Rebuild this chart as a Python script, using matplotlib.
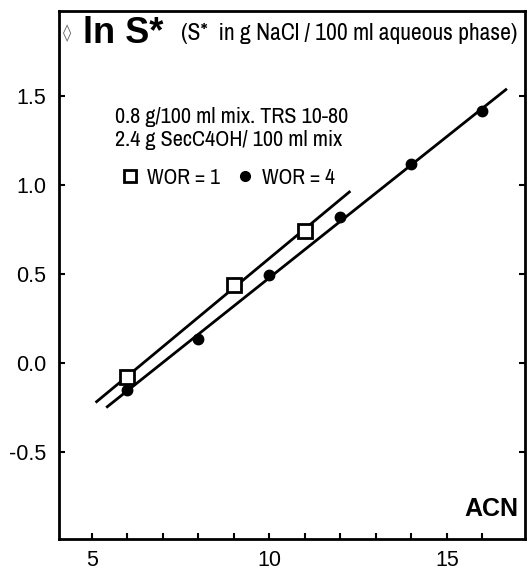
import numpy as np
import matplotlib
matplotlib.use("Agg")
import matplotlib.pyplot as plt
from matplotlib.lines import Line2D

# Data
acn_wor1 = [6, 9, 11]
lns_wor1 = [-0.08, 0.44, 0.745]
acn_wor4 = [6, 8, 10, 12, 14, 16]
lns_wor4 = [-0.153, 0.136, 0.494, 0.82, 1.12, 1.415]
fit_range_wor1 = [5.13, 12.25]
fit_range_wor4 = [5.43, 16.66]
x_ticks = [5, 10, 15]
y_ticks = [-0.5, 0.0, 0.5, 1.0, 1.5]
y_ticklabels = ["-0.5", "0.0", "0.5", "1.0", "1.5"]

plt.rcParams['font.family'] = ['Liberation Sans', 'DejaVu Sans']
narrow = ['Archivo Narrow', 'Asap Condensed', 'Liberation Sans', 'DejaVu Sans']

fig = plt.figure(figsize=(5.3, 5.76), dpi=100)
ax = fig.add_axes([59/530, 1-539/576, (525-59)/530, (539-11)/576])

for xs, ys, rng in [(acn_wor1, lns_wor1, fit_range_wor1), (acn_wor4, lns_wor4, fit_range_wor4)]:
    k, b = np.polyfit(xs, ys, 1)
    xr = np.array(rng)
    ax.plot(xr, k*xr + b, color='black', lw=2.0, zorder=2)

ax.plot(acn_wor1, lns_wor1, linestyle='none', marker='s', ms=10, mfc='white',
        mec='black', mew=2.0, zorder=3)
ax.plot(acn_wor4, lns_wor4, linestyle='none', marker='o', ms=7.5, mfc='black',
        mec='black', zorder=3)

ax.set_xlim(4.07, 17.2)
ax.set_ylim(-0.99, 1.98)
ax.set_xticks(x_ticks)
ax.set_xticks(np.arange(5, 17, 1), minor=True)
ax.set_yticks(y_ticks)
ax.set_yticklabels(y_ticklabels)
ax.tick_params(axis='both', which='both', direction='in', labelsize=15.5, width=1.5, length=4)
ax.tick_params(axis='y', right=True, pad=9)
ax.tick_params(axis='x', pad=8)
for s in ax.spines.values():
    s.set_linewidth(2.0)

ax.text(0.017, 0.958, "◊", transform=ax.transAxes, fontsize=12, color='#666666',
        va='center', ha='center', family=['DejaVu Sans'])
ax.text(0.051, 0.958, "ln S*", transform=ax.transAxes, fontsize=26, fontweight='bold',
        va='center', ha='left')
ax.text(0.262, 0.958, "(S*  in g NaCl / 100 ml aqueous phase)", transform=ax.transAxes,
        fontsize=17, va='center', ha='left', family=narrow)
ax.text(0.12, 0.777, "0.8 g/100 ml mix. TRS 10-80\n2.4 g SecC4OH/ 100 ml mix",
        transform=ax.transAxes, fontsize=16, va='center', ha='left',
        linespacing=1.2, family=narrow)
ax.text(0.985, 0.035, "ACN", transform=ax.transAxes, fontsize=18, fontweight='bold',
        va='bottom', ha='right')

handles = [Line2D([], [], linestyle='none', marker='s', ms=8, mfc='white', mec='black', mew=2.0),
           Line2D([], [], linestyle='none', marker='o', ms=7, mfc='black', mec='black')]
leg = ax.legend(handles, ["WOR = 1", "WOR = 4"], ncol=2, frameon=False,
                loc='center left', bbox_to_anchor=(0.104, 0.684), handletextpad=0.25,
                columnspacing=0.6, handlelength=1.1, borderpad=0,
                prop={'size': 15.5, 'family': narrow})

fig.savefig("out.png", dpi=100)
